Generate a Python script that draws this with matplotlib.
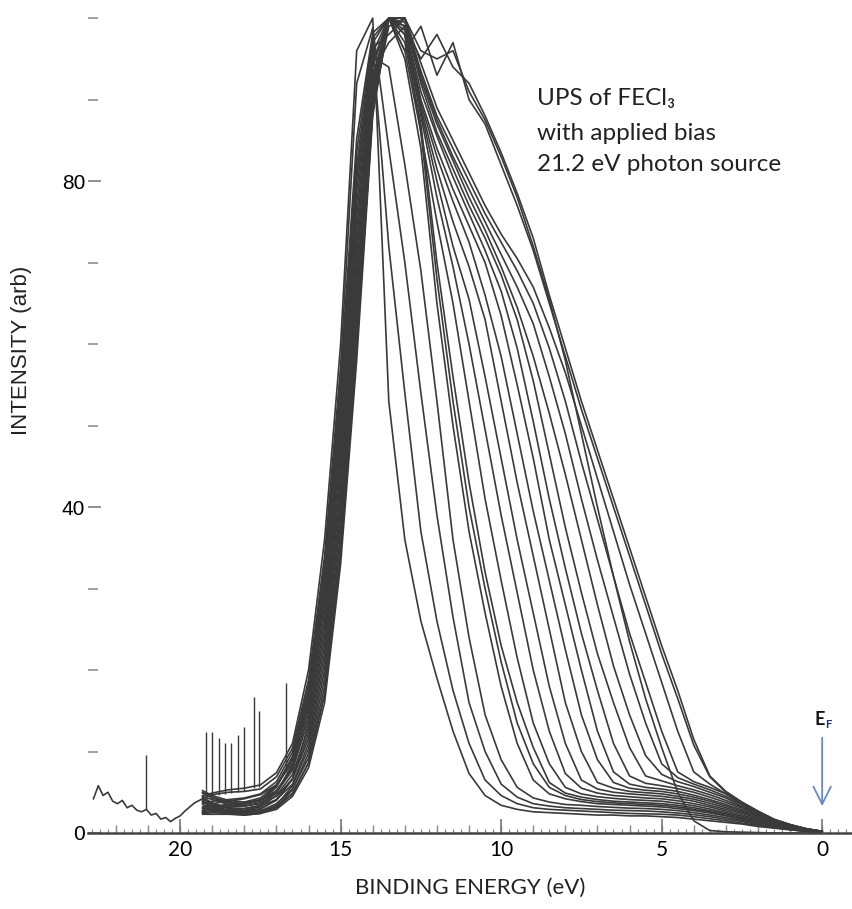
import matplotlib
matplotlib.use('Agg')
import matplotlib.pyplot as plt
from matplotlib.ticker import FixedLocator, MultipleLocator, NullFormatter

# binding energy grid shared by all spectra (eV)
energy_ev = [19.3, 19.0, 18.5, 18.0, 17.5, 17.0, 16.5, 16.0, 15.5, 15.0,
             14.5, 14.0, 13.5, 13.0, 12.5, 12.0, 11.5, 11.0, 10.5, 10.0,
             9.5, 9.0, 8.5, 8.0, 7.5, 7.0, 6.5, 6.0, 5.5, 5.0,
             4.5, 4.0, 3.5, 3.0, 2.5, 2.0, 1.5, 1.0, 0.5, 0.0]

# one row per spectrum (different applied bias)
intensity = [
    [4.6, 4.9, 5.3, 5.5, 5.9, 7.4, 11, 20, 36, 60, 96, 100,
     53, 36, 26, 19, 12.5, 7.3, 4.6, 3.4, 2.9, 2.6, 2.5, 2.4, 2.3, 2.2,
     2.2, 2.1, 2.1, 2.0, 1.9, 1.7, 1.5, 1.3, 1.1, 0.8, 0.6, 0.4, 0.2, 0.1],
    [5.2, 4.6, 4.0, 3.8, 4.3, 5.9, 9.0, 16.4, 30, 51.9, 80.4, 96.4,
     72, 54, 37, 26, 17.5, 11, 6.5, 4.6, 3.6, 3.1, 2.9, 2.8, 2.7, 2.6,
     2.5, 2.4, 2.35, 2.3, 2.2, 2.0, 1.75, 1.5, 1.2, 0.95, 0.65, 0.4, 0.2, 0.1],
    [4.2, 4.7, 5.0, 5.1, 5.4, 6.9, 10.4, 18.8, 34, 57.3, 92, 98.8,
     84, 70, 54, 39, 26.5, 16, 10, 6.0, 4.4, 3.6, 3.3, 3.1, 3.0, 2.9,
     2.8, 2.75, 2.7, 2.6, 2.45, 2.25, 2.0, 1.7, 1.4, 1.05, 0.75, 0.45, 0.25, 0.1],
    [3.2, 3.6, 3.9, 4.2, 4.7, 5.9, 8.6, 15.2, 28, 49.2, 77.2, 95.2,
     94, 82, 69, 53, 36, 24, 14.5, 9.0, 5.6, 4.3, 3.8, 3.5, 3.4, 3.25,
     3.15, 3.05, 3.0, 2.9, 2.75, 2.5, 2.2, 1.9, 1.55, 1.2, 0.85, 0.5, 0.25, 0.1],
    [4.4, 3.7, 3.0, 2.8, 3.2, 4.6, 7.2, 12.8, 24, 43.8, 70.8, 92.8,
     100, 95, 84, 65, 50, 37, 27, 18, 11, 6.5, 4.8, 4.2, 3.85, 3.6,
     3.5, 3.4, 3.3, 3.2, 3.0, 2.75, 2.45, 2.1, 1.7, 1.3, 0.9, 0.6, 0.3, 0.1],
    [2.8, 3.0, 3.2, 3.3, 3.6, 4.5, 6.6, 11.6, 22, 41.1, 67.6, 91.6,
     100, 96, 86, 68, 53, 40, 30, 21, 13.5, 8.5, 5.6, 4.6, 4.1, 3.85,
     3.7, 3.6, 3.5, 3.4, 3.2, 2.9, 2.6, 2.2, 1.8, 1.4, 1.0, 0.6, 0.3, 0.1],
    [3.8, 3.1, 2.5, 2.3, 2.5, 3.4, 5.8, 10.4, 20, 38.4, 64.4, 90.4,
     100, 97, 87, 70, 56, 43, 32, 23, 16, 10.5, 6.2, 4.9, 4.4, 4.1,
     3.9, 3.8, 3.7, 3.6, 3.4, 3.1, 2.75, 2.35, 1.9, 1.5, 1.05, 0.65, 0.35, 0.1],
    [2.4, 2.5, 2.4, 2.3, 2.5, 3.1, 4.8, 8.6, 17, 34.4, 59.6, 88.6,
     100, 98, 86, 75, 65, 53, 41, 31, 21.5, 13.5, 8.5, 5.6, 4.8, 4.45,
     4.25, 4.1, 4.0, 3.9, 3.65, 3.35, 2.95, 2.5, 2.05, 1.6, 1.15, 0.7, 0.35, 0.1],
    [4.9, 4.3, 3.7, 3.5, 3.9, 5.6, 9.2, 17.6, 32, 54.6, 83.6, 97.6,
     100, 98, 88, 78, 69.5, 60, 49.5, 39, 29.5, 20, 12.5, 7.3, 5.5, 4.9,
     4.6, 4.45, 4.3, 4.2, 3.95, 3.6, 3.2, 2.7, 2.2, 1.7, 1.2, 0.75, 0.4, 0.1],
    [3.0, 3.3, 3.5, 3.7, 4.1, 5.2, 8.0, 14.6, 27, 47.9, 75.6, 94.6,
     100, 98, 88.5, 80, 72, 65.5, 56, 46, 36, 27, 18, 11, 6.5, 5.4,
     5.0, 4.8, 4.65, 4.5, 4.25, 3.9, 3.4, 2.9, 2.4, 1.85, 1.3, 0.8, 0.4, 0.15],
    [4.0, 3.4, 2.8, 2.6, 2.9, 4.1, 6.7, 12.2, 23, 42.5, 69.2, 92.2,
     100, 98.5, 89, 81.5, 75, 69.5, 63, 53, 43, 34, 25, 16, 10, 6.2,
     5.5, 5.1, 4.95, 4.8, 4.5, 4.15, 3.65, 3.1, 2.55, 1.95, 1.4, 0.85, 0.45, 0.15],
    [2.6, 2.8, 2.9, 3.0, 3.3, 4.1, 6.0, 11, 21, 39.8, 66, 91,
     100, 99, 89.5, 83, 77.5, 72.5, 66, 58.5, 49, 39.5, 31, 22.5, 14.5, 9,
     6.2, 5.5, 5.25, 5.1, 4.8, 4.4, 3.9, 3.3, 2.7, 2.1, 1.5, 0.9, 0.45, 0.15],
    [3.5, 2.9, 2.4, 2.2, 2.4, 3.2, 5.3, 9.8, 19, 37.1, 62.8, 89.8,
     100, 99, 90, 84, 79, 74.5, 70, 63.5, 55, 46, 36, 28, 20, 12.5,
     7.5, 6.0, 5.6, 5.4, 5.1, 4.65, 4.1, 3.5, 2.85, 2.2, 1.6, 1.0, 0.5, 0.15],
    [2.3, 2.3, 2.3, 2.2, 2.4, 2.9, 4.5, 8.0, 16, 33, 58, 88,
     100, 99, 91, 85.5, 80.5, 76, 71.5, 66.5, 59.5, 50.5, 41, 32.5, 24.5, 17.5,
     11, 7, 6.1, 5.8, 5.45, 5.0, 4.4, 3.75, 3.05, 2.35, 1.5, 0.95, 0.5, 0.2],
    [4.5, 4.1, 3.5, 3.3, 3.7, 5.0, 8.4, 15.8, 29, 50.5, 78.8, 95.8,
     100, 99.5, 92, 86, 81.5, 77, 73, 68.5, 63, 55.5, 46.5, 37.5, 29.5, 22,
     16, 10.5, 7.0, 6.4, 5.8, 5.3, 4.7, 4.0, 3.2, 2.35, 1.55, 0.95, 0.5, 0.2],
    [3.6, 3.9, 4.1, 4.3, 4.8, 6.3, 9.9, 18.2, 33, 56, 85.2, 98.2,
     100, 100, 92.5, 87, 82.5, 78, 74, 69.5, 64.5, 58.5, 51.5, 44, 36, 28,
     20.5, 14.5, 9.5, 7.2, 6.3, 5.7, 5.0, 4.3, 3.3, 2.4, 1.55, 0.95, 0.5, 0.2],
    [5.0, 4.4, 3.8, 3.6, 4.0, 5.8, 9.4, 17, 31, 53.3, 82, 97,
     100, 100, 93, 87.5, 83, 79, 75, 71, 67, 62.5, 56, 49, 41, 33.5,
     26.5, 19.5, 13.5, 8.5, 6.8, 6.0, 5.3, 4.5, 3.5, 2.5, 1.6, 1.0, 0.5, 0.2],
    [2.7, 3.1, 3.4, 3.6, 4.0, 5.0, 7.7, 14, 26, 46.5, 74, 94,
     100, 100, 93.5, 88, 84, 80, 76, 72.5, 69, 65, 59.5, 53, 45.5, 38.5,
     31.5, 24.5, 18.5, 12.5, 7.5, 6.3, 5.6, 4.8, 3.6, 2.55, 1.6, 1.0, 0.5, 0.2],
    [3.9, 3.3, 2.7, 2.5, 2.7, 3.6, 5.4, 9.2, 18, 35.7, 61.2, 89.2,
     99, 100, 94.5, 89, 85, 81, 77, 73.5, 70.5, 67, 62, 56.5, 50, 43.5,
     37, 30.5, 24.5, 18.5, 12.5, 7.5, 6.0, 4.8, 3.7, 2.6, 1.65, 1.0, 0.5, 0.2],
    [3.1, 3.0, 2.8, 2.7, 3.0, 4.0, 6.6, 13.4, 25, 45.2, 72.4, 93.4,
     97, 99, 95, 98, 94, 92, 88, 83.5, 78.5, 73, 66, 59.5, 53, 47,
     41, 35, 29, 23, 17.5, 11.5, 7.0, 5.1, 3.8, 2.7, 1.7, 1.05, 0.55, 0.2],
    [2.5, 2.6, 2.6, 2.5, 2.7, 3.2, 4.9, 8.6, 17, 34.4, 59.6, 88.6,
     100, 96, 99, 93, 97, 90, 87, 82, 77, 71.5, 65, 58.5, 52, 46,
     40, 34, 28, 22, 16.5, 10.8, 6.9, 5.0, 3.75, 2.65, 1.65, 1.0, 0.5, 0.2],
    [4.2, 3.6, 3.1, 3.0, 3.4, 4.9, 8.2, 16.4, 30, 51.9, 80.4, 96.4,
     98, 100, 96, 95, 96, 91, 87.5, 83, 78, 72, 65.5, 58, 49, 40,
     31.5, 23.5, 16.5, 10.5, 5.0, 1.5, 0.3, 0.15, 0.1, 0.05, 0.0, 0.0, 0.0, 0.0],
]

# the one scan that starts further out, joins spectrum 3 at 19.3 eV
long_energy = [22.7, 22.55, 22.4, 22.25, 22.1, 21.95, 21.8, 21.65, 21.5, 21.35, 21.2,
               21.05, 20.9, 20.75, 20.6, 20.45, 20.3, 20.15, 20.0, 19.85, 19.7, 19.55]
long_intensity = [4.2, 5.8, 4.6, 5.0, 3.9, 3.6, 4.0, 3.1, 3.4, 2.8, 2.6,
                  2.9, 2.2, 2.4, 1.7, 1.9, 1.4, 1.8, 2.1, 2.7, 3.2, 3.7]

# noise spikes near the secondary edge
spike_energy = [21.05, 19.2, 19.0, 18.8, 18.6, 18.4, 18.2, 18.0, 17.7, 17.55, 16.7]
spike_base = [2.9, 4.4, 4.6, 4.7, 4.8, 4.9, 5.0, 5.2, 5.5, 5.7, 7.5]
spike_top = [9.6, 12.4, 12.4, 11.6, 11.0, 11.0, 12.0, 13.0, 16.7, 15.0, 18.4]

x_major = [20, 15, 10, 5, 0]
y_major = [0, 40, 80]
note_lines = ['UPS of FECl\u2083', 'with applied bias', '21.2 eV photon source']

line_color = '#3a3a3a'

fig = plt.figure(figsize=(8.52, 9.09), dpi=100)
ax = fig.add_axes([88 / 852, 1 - 833 / 909, 1 - 88 / 852, (833 - 10) / 909])

for row in intensity:
    ax.plot(energy_ev, row, color=line_color, lw=1.2)
ax.plot(long_energy + [energy_ev[0]], long_intensity + [intensity[2][0]],
        color=line_color, lw=1.2)
ax.vlines(spike_energy, spike_base, spike_top, color=line_color, lw=1.0)

ax.set_xlim(22.87, -0.93)
ax.set_ylim(0, 101)

for side in ['top', 'right', 'left']:
    ax.spines[side].set_visible(False)
ax.spines['bottom'].set_color('#444444')
ax.spines['bottom'].set_linewidth(1.8)

# x ticks: labelled every 5 eV, small marks every 1 and 0.25 eV
ax.xaxis.set_major_locator(FixedLocator(x_major))
ax.set_xticklabels([str(v) for v in x_major], family='Lato')
ax.xaxis.set_minor_locator(MultipleLocator(0.25))
ax.tick_params(axis='x', which='major', direction='in', length=10, width=1.2,
               color='#777777', pad=5, labelsize=15)
ax.tick_params(axis='x', which='minor', direction='in', length=3, width=0.9,
               color='#888888')
sec = ax.secondary_xaxis('bottom')
sec.set_xticks(range(0, 23))
sec.xaxis.set_major_formatter(NullFormatter())
sec.spines['bottom'].set_visible(False)
sec.tick_params(direction='in', length=5.5, width=1.0, color='#888888')

# y ticks: labels at 0/40/80, marks every 10
ax.yaxis.set_major_locator(FixedLocator(y_major))
ax.yaxis.set_minor_locator(MultipleLocator(10))
ax.set_yticklabels([str(v) for v in y_major], family='Liberation Sans')
ax.tick_params(axis='y', which='major', direction='in', length=9, width=1.3,
               color='#888888', pad=2, labelsize=15)
ax.tick_params(axis='y', which='minor', direction='in', length=7, width=1.3,
               color='#999999')

fig.text(22 / 852, 1 - 350 / 909, 'INTENSITY (arb)', rotation=90, ha='center',
         va='center', fontsize=16, family='Liberation Sans', color='#222222')
fig.text(470 / 852, 1 - 888 / 909, 'BINDING ENERGY (eV)', ha='center',
         va='center', fontsize=16, family='Lato', color='#222222')

for line, yv in zip(note_lines, [90.2, 85.9, 82.0]):
    ax.text(8.88, yv, line, ha='left', va='center', fontsize=17.5,
            family=['Lato', 'DejaVu Sans'], color='#222222')

# Fermi level marker
ax.text(0.08, 13.9, 'E', ha='center', va='center', fontsize=13,
        fontweight='bold', family='Lato', color='#111111')
ax.text(-0.2, 13.3, 'F', ha='center', va='center', fontsize=8,
        fontweight='bold', family='Lato', color='#27317a')
ax.annotate('', xy=(0.0, 3.3), xytext=(0.0, 11.7),
            arrowprops=dict(arrowstyle='->,head_length=0.9,head_width=0.45',
                            color='#6a8ac6', lw=1.3, mutation_scale=14,
                            shrinkA=0, shrinkB=0))

fig.savefig('out.png', dpi=100)
